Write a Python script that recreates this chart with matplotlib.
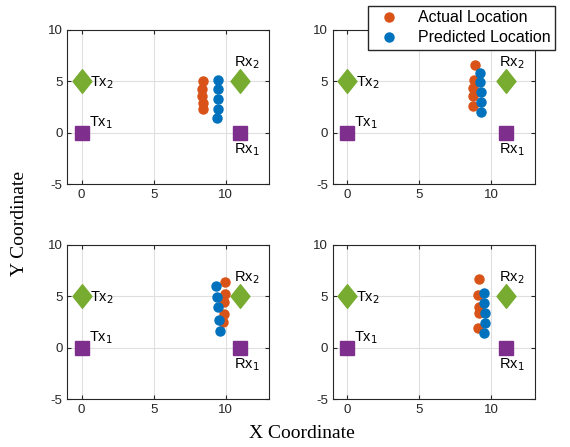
import numpy as np
import matplotlib.pyplot as plt
from matplotlib.path import Path

plt.rcParams['font.family'] = ['Liberation Sans', 'DejaVu Sans']
plt.rcParams['axes.unicode_minus'] = False

# node positions
tx1 = (0, 0)
tx2 = (0, 5)
rx1 = (11, 0)
rx2 = (11, 5)

# actual / predicted locations for each subplot (TL, TR, BL, BR)
act_x = [[8.4, 8.35, 8.35, 8.4, 8.45],
         [8.85, 8.8, 8.75, 8.75, 8.75],
         [9.95, 9.95, 9.9, 9.85, 9.8],
         [9.15, 9.1, 9.15, 9.15, 9.1]]
act_y = [[5.0, 4.3, 3.6, 2.85, 2.3],
         [6.6, 5.1, 4.35, 3.6, 2.65],
         [6.35, 5.25, 4.45, 3.25, 2.5],
         [6.7, 5.15, 3.95, 3.4, 1.95]]
pred_x = [[9.45, 9.45, 9.45, 9.45, 9.4],
          [9.2, 9.2, 9.25, 9.25, 9.25],
          [9.35, 9.4, 9.45, 9.55, 9.6],
          [9.5, 9.5, 9.55, 9.55, 9.5]]
pred_y = [[5.1, 4.25, 3.3, 2.3, 1.4],
          [5.8, 4.9, 3.95, 2.95, 2.0],
          [6.0, 4.95, 3.95, 2.7, 1.6],
          [5.3, 4.4, 3.4, 2.4, 1.4]]

c_act = '#D95319'
c_pred = '#0072BD'
c_sq = '#7E2F8E'
c_dm = '#77AC30'
dark = '#262626'

# matlab-like diamond (a bit taller than wide)
diamond = Path([(0, 1), (0.8, 0), (0, -1), (-0.8, 0), (0, 1)],
               [Path.MOVETO, Path.LINETO, Path.LINETO, Path.LINETO, Path.CLOSEPOLY])

fig = plt.figure(figsize=(5.7, 4.47), dpi=100)
w, h = 0.354, 0.345
pos = [(0.118, 0.588), (0.584, 0.588), (0.118, 0.107), (0.584, 0.107)]

for k in range(4):
    ax = fig.add_axes([pos[k][0], pos[k][1], w, h])
    ax.plot(*tx1, 's', color=c_sq, ms=10)
    ax.plot(*rx1, 's', color=c_sq, ms=10)
    ax.plot(*tx2, marker=diamond, color=c_dm, ms=17)
    ax.plot(*rx2, marker=diamond, color=c_dm, ms=17)
    la, = ax.plot(act_x[k], act_y[k], 'o', color=c_act, ms=6.5, ls='none')
    lp, = ax.plot(pred_x[k], pred_y[k], 'o', color=c_pred, ms=6.5, ls='none')
    ax.text(0.5, 0.15, 'Tx$_1$', fontsize=10.5, va='bottom')
    ax.text(0.6, 4.9, 'Tx$_2$', fontsize=10.5, va='center')
    ax.text(10.55, 6.0, 'Rx$_2$', fontsize=10.5, va='bottom')
    ax.text(10.55, -0.8, 'Rx$_1$', fontsize=10.5, va='top')
    ax.set_xlim(-1, 13)
    ax.set_ylim(-5, 10)
    ax.set_xticks([0, 5, 10])
    ax.set_yticks([-5, 0, 5, 10])
    ax.grid(True, color='#DFDFDF', lw=0.8)
    ax.set_axisbelow(True)
    ax.tick_params(direction='in', labelsize=9.5, colors=dark, length=3,
                   top=True, right=True)
    for s in ax.spines.values():
        s.set_color(dark)
        s.set_linewidth(0.8)

fig.legend([la, lp], ['Actual Location', 'Predicted Location'],
           loc='upper right', bbox_to_anchor=(0.982, 0.998), fontsize=11.5,
           fancybox=False, edgecolor=dark, framealpha=1, handletextpad=0.8,
           borderpad=0.3, labelspacing=0.3, handlelength=2.0, borderaxespad=0.3)

fig.text(0.53, 0.03, 'X Coordinate', family='Liberation Serif', fontsize=14,
         ha='center', va='center')
fig.text(0.035, 0.5, 'Y Coordinate', family='Liberation Serif', fontsize=14,
         ha='center', va='center', rotation=90)

fig.savefig('out.png', dpi=100)
